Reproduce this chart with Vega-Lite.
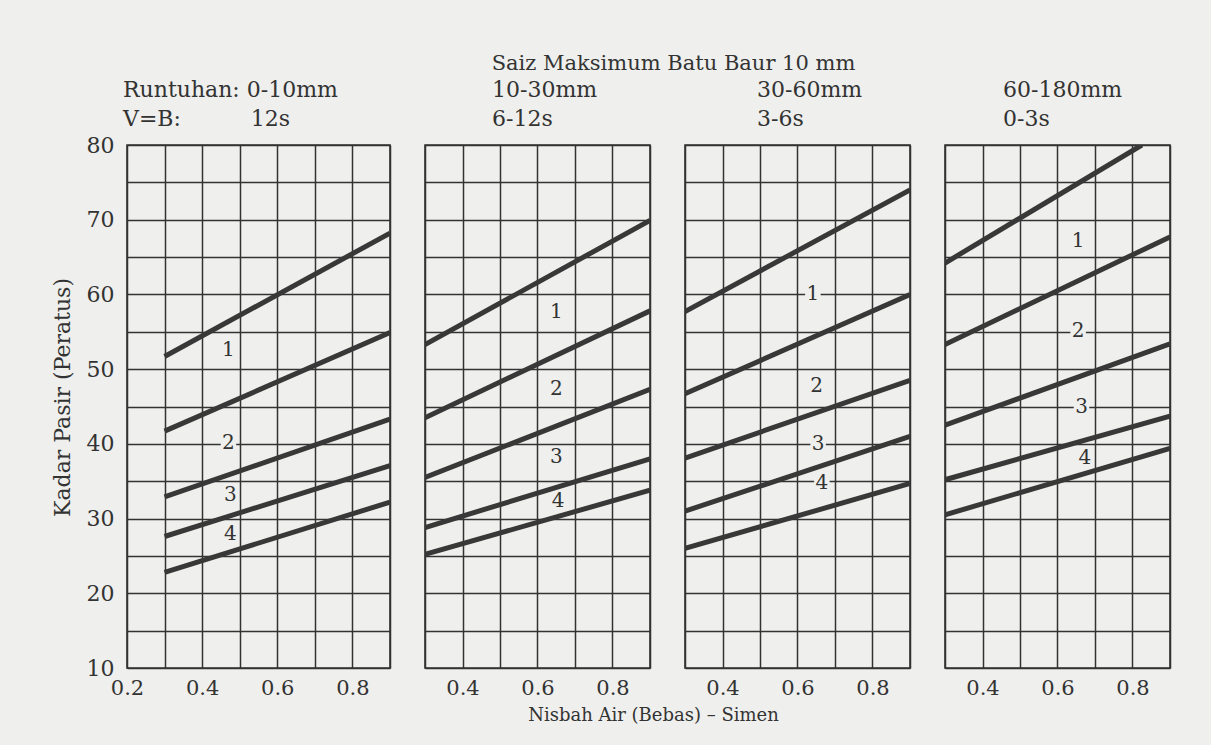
{
  "$schema": "https://vega.github.io/schema/vega-lite/v6.json",
  "background": "#efefed",
  "padding": {"left": 50, "top": 53, "right": 40, "bottom": 20},
  "title": {"text": "Saiz Maksimum Batu Baur 10 mm", "font": "DejaVu Serif", "fontSize": 21, "fontWeight": "normal", "color": "#333333", "anchor": "middle", "offset": 4, "dx": 63},
  "datasets": {
    "lines": [
      {"panel": 1, "curve": 1, "x": 0.3, "y": 51.7}, {"panel": 1, "curve": 1, "x": 0.9, "y": 68.2},
      {"panel": 1, "curve": 2, "x": 0.3, "y": 41.7}, {"panel": 1, "curve": 2, "x": 0.9, "y": 54.9},
      {"panel": 1, "curve": 3, "x": 0.3, "y": 32.9}, {"panel": 1, "curve": 3, "x": 0.9, "y": 43.3},
      {"panel": 1, "curve": 4, "x": 0.3, "y": 27.6}, {"panel": 1, "curve": 4, "x": 0.9, "y": 37.1},
      {"panel": 1, "curve": 5, "x": 0.3, "y": 22.8}, {"panel": 1, "curve": 5, "x": 0.9, "y": 32.2},
      {"panel": 2, "curve": 1, "x": 0.3, "y": 53.3}, {"panel": 2, "curve": 1, "x": 0.9, "y": 69.9},
      {"panel": 2, "curve": 2, "x": 0.3, "y": 43.5}, {"panel": 2, "curve": 2, "x": 0.9, "y": 57.8},
      {"panel": 2, "curve": 3, "x": 0.3, "y": 35.5}, {"panel": 2, "curve": 3, "x": 0.9, "y": 47.3},
      {"panel": 2, "curve": 4, "x": 0.3, "y": 28.8}, {"panel": 2, "curve": 4, "x": 0.9, "y": 38.0},
      {"panel": 2, "curve": 5, "x": 0.3, "y": 25.2}, {"panel": 2, "curve": 5, "x": 0.9, "y": 33.8},
      {"panel": 3, "curve": 1, "x": 0.3, "y": 57.7}, {"panel": 3, "curve": 1, "x": 0.9, "y": 74.0},
      {"panel": 3, "curve": 2, "x": 0.3, "y": 46.7}, {"panel": 3, "curve": 2, "x": 0.9, "y": 60.0},
      {"panel": 3, "curve": 3, "x": 0.3, "y": 38.1}, {"panel": 3, "curve": 3, "x": 0.9, "y": 48.5},
      {"panel": 3, "curve": 4, "x": 0.3, "y": 31.0}, {"panel": 3, "curve": 4, "x": 0.9, "y": 41.0},
      {"panel": 3, "curve": 5, "x": 0.3, "y": 26.0}, {"panel": 3, "curve": 5, "x": 0.9, "y": 34.7},
      {"panel": 4, "curve": 1, "x": 0.3, "y": 64.2}, {"panel": 4, "curve": 1, "x": 0.825, "y": 80.0},
      {"panel": 4, "curve": 2, "x": 0.3, "y": 53.3}, {"panel": 4, "curve": 2, "x": 0.9, "y": 67.7},
      {"panel": 4, "curve": 3, "x": 0.3, "y": 42.5}, {"panel": 4, "curve": 3, "x": 0.9, "y": 53.4},
      {"panel": 4, "curve": 4, "x": 0.3, "y": 35.2}, {"panel": 4, "curve": 4, "x": 0.9, "y": 43.7},
      {"panel": 4, "curve": 5, "x": 0.3, "y": 30.5}, {"panel": 4, "curve": 5, "x": 0.9, "y": 39.4}
    ],
    "labels": [
      {"panel": 1, "label": "1", "x": 0.47, "y": 52.6},
      {"panel": 1, "label": "2", "x": 0.47, "y": 40.1},
      {"panel": 1, "label": "3", "x": 0.475, "y": 33.2},
      {"panel": 1, "label": "4", "x": 0.475, "y": 28.0},
      {"panel": 2, "label": "1", "x": 0.65, "y": 57.7},
      {"panel": 2, "label": "2", "x": 0.65, "y": 47.4},
      {"panel": 2, "label": "3", "x": 0.65, "y": 38.2},
      {"panel": 2, "label": "4", "x": 0.655, "y": 32.3},
      {"panel": 3, "label": "1", "x": 0.641, "y": 60.0},
      {"panel": 3, "label": "2", "x": 0.651, "y": 47.7},
      {"panel": 3, "label": "3", "x": 0.655, "y": 40.0},
      {"panel": 3, "label": "4", "x": 0.665, "y": 34.8},
      {"panel": 4, "label": "1", "x": 0.655, "y": 67.2},
      {"panel": 4, "label": "2", "x": 0.655, "y": 55.1},
      {"panel": 4, "label": "3", "x": 0.664, "y": 45.0},
      {"panel": 4, "label": "4", "x": 0.673, "y": 38.1}
    ]
  },
  "config": {
    "view": {"stroke": "#333333", "strokeWidth": 1.6},
    "title": {"font": "DejaVu Serif", "fontSize": 22, "fontWeight": "normal", "color": "#333333"},
    "axis": {"labelFont": "DejaVu Serif", "labelFontSize": 21, "labelColor": "#333333", "titleFont": "DejaVu Serif", "titleFontSize": 20, "titleFontWeight": "normal", "titleColor": "#333333", "grid": true, "gridColor": "#333333", "gridWidth": 1.5, "gridOpacity": 1, "ticks": false, "domain": false, "labelFlush": false, "labelOverlap": false}
  },
  "hconcat": [
    {
      "width": 263, "height": 523,
      "title": {"text": ["Runtuhan: 0-10mm", "V=B:\u00a0\u00a0\u00a0\u00a0\u00a0\u00a0\u00a0\u00a0\u00a0\u00a012s"], "anchor": "start", "frame": "group", "lineHeight": 29, "offset": 3, "dx": -4},
      "encoding": {
        "x": {"field": "x", "type": "quantitative", "scale": {"domain": [0.2, 0.9], "nice": false, "zero": false}, "axis": {"values": [0.2, 0.3, 0.4, 0.5, 0.6, 0.7, 0.8, 0.9], "labelExpr": "indexof(['0.2','0.4','0.6','0.8'], format(datum.value, '.1f')) >= 0 ? format(datum.value, '.1f') : ''", "labelPadding": 9, "title": null}},
        "y": {"field": "y", "type": "quantitative", "scale": {"domain": [10, 80], "nice": false, "zero": false}, "axis": {"values": [10, 15, 20, 25, 30, 35, 40, 45, 50, 55, 60, 65, 70, 75, 80], "labelExpr": "datum.value % 10 === 0 ? datum.label : ''", "labelFontSize": 22, "labelPadding": 13, "title": "Kadar Pasir (Peratus)", "titleFontSize": 22, "titlePadding": 12, "titleY": 252}}
      },
      "layer": [
        {"data": {"name": "lines"}, "transform": [{"filter": "datum.panel === 1"}], "mark": {"type": "line", "clip": true, "strokeWidth": 5, "color": "#383838", "strokeCap": "butt"}, "encoding": {"detail": {"field": "curve"}}},
        {"data": {"name": "labels"}, "transform": [{"filter": "datum.panel === 1"}], "mark": {"type": "point", "shape": "square", "size": 240, "filled": true, "color": "#efefed", "opacity": 1}},
        {"data": {"name": "labels"}, "transform": [{"filter": "datum.panel === 1"}], "mark": {"type": "text", "font": "DejaVu Serif", "fontSize": 20, "color": "#333333"}, "encoding": {"text": {"field": "label"}}}
      ]
    },
    {
      "width": 225, "height": 523,
      "title": {"text": ["10-30mm", "6-12s"], "anchor": "start", "frame": "group", "lineHeight": 29, "offset": 14, "dx": 67},
      "encoding": {
        "x": {"field": "x", "type": "quantitative", "scale": {"domain": [0.3, 0.9], "nice": false, "zero": false}, "axis": {"values": [0.3, 0.4, 0.5, 0.6, 0.7, 0.8, 0.9], "labelExpr": "indexof(['0.4','0.6','0.8'], format(datum.value, '.1f')) >= 0 ? format(datum.value, '.1f') : ''", "labelPadding": 9, "title": "Nisbah Air (Bebas) – Simen", "titleFontSize": 18, "titleX": 228, "titlePadding": 8}},
        "y": {"field": "y", "type": "quantitative", "scale": {"domain": [10, 80], "nice": false, "zero": false}, "axis": {"values": [10, 15, 20, 25, 30, 35, 40, 45, 50, 55, 60, 65, 70, 75, 80], "labels": false, "title": null}}
      },
      "layer": [
        {"data": {"name": "lines"}, "transform": [{"filter": "datum.panel === 2"}], "mark": {"type": "line", "clip": true, "strokeWidth": 5, "color": "#383838", "strokeCap": "butt"}, "encoding": {"detail": {"field": "curve"}}},
        {"data": {"name": "labels"}, "transform": [{"filter": "datum.panel === 2"}], "mark": {"type": "point", "shape": "square", "size": 240, "filled": true, "color": "#efefed", "opacity": 1}},
        {"data": {"name": "labels"}, "transform": [{"filter": "datum.panel === 2"}], "mark": {"type": "text", "font": "DejaVu Serif", "fontSize": 20, "color": "#333333"}, "encoding": {"text": {"field": "label"}}}
      ]
    },
    {
      "width": 225, "height": 523,
      "title": {"text": ["30-60mm", "3-6s"], "anchor": "start", "frame": "group", "lineHeight": 29, "offset": 14, "dx": 72},
      "encoding": {
        "x": {"field": "x", "type": "quantitative", "scale": {"domain": [0.3, 0.9], "nice": false, "zero": false}, "axis": {"values": [0.3, 0.4, 0.5, 0.6, 0.7, 0.8, 0.9], "labelExpr": "indexof(['0.4','0.6','0.8'], format(datum.value, '.1f')) >= 0 ? format(datum.value, '.1f') : ''", "labelPadding": 9, "title": null}},
        "y": {"field": "y", "type": "quantitative", "scale": {"domain": [10, 80], "nice": false, "zero": false}, "axis": {"values": [10, 15, 20, 25, 30, 35, 40, 45, 50, 55, 60, 65, 70, 75, 80], "labels": false, "title": null}}
      },
      "layer": [
        {"data": {"name": "lines"}, "transform": [{"filter": "datum.panel === 3"}], "mark": {"type": "line", "clip": true, "strokeWidth": 5, "color": "#383838", "strokeCap": "butt"}, "encoding": {"detail": {"field": "curve"}}},
        {"data": {"name": "labels"}, "transform": [{"filter": "datum.panel === 3"}], "mark": {"type": "point", "shape": "square", "size": 240, "filled": true, "color": "#efefed", "opacity": 1}},
        {"data": {"name": "labels"}, "transform": [{"filter": "datum.panel === 3"}], "mark": {"type": "text", "font": "DejaVu Serif", "fontSize": 20, "color": "#333333"}, "encoding": {"text": {"field": "label"}}}
      ]
    },
    {
      "width": 225, "height": 523,
      "title": {"text": ["60-180mm", "0-3s"], "anchor": "start", "frame": "group", "lineHeight": 29, "offset": 14, "dx": 58},
      "encoding": {
        "x": {"field": "x", "type": "quantitative", "scale": {"domain": [0.3, 0.9], "nice": false, "zero": false}, "axis": {"values": [0.3, 0.4, 0.5, 0.6, 0.7, 0.8, 0.9], "labelExpr": "indexof(['0.4','0.6','0.8'], format(datum.value, '.1f')) >= 0 ? format(datum.value, '.1f') : ''", "labelPadding": 9, "title": null}},
        "y": {"field": "y", "type": "quantitative", "scale": {"domain": [10, 80], "nice": false, "zero": false}, "axis": {"values": [10, 15, 20, 25, 30, 35, 40, 45, 50, 55, 60, 65, 70, 75, 80], "labels": false, "title": null}}
      },
      "layer": [
        {"data": {"name": "lines"}, "transform": [{"filter": "datum.panel === 4"}], "mark": {"type": "line", "clip": true, "strokeWidth": 5, "color": "#383838", "strokeCap": "butt"}, "encoding": {"detail": {"field": "curve"}}},
        {"data": {"name": "labels"}, "transform": [{"filter": "datum.panel === 4"}], "mark": {"type": "point", "shape": "square", "size": 240, "filled": true, "color": "#efefed", "opacity": 1}},
        {"data": {"name": "labels"}, "transform": [{"filter": "datum.panel === 4"}], "mark": {"type": "text", "font": "DejaVu Serif", "fontSize": 20, "color": "#333333"}, "encoding": {"text": {"field": "label"}}}
      ]
    }
  ],
  "spacing": 35,
  "bounds": "flush"
}
